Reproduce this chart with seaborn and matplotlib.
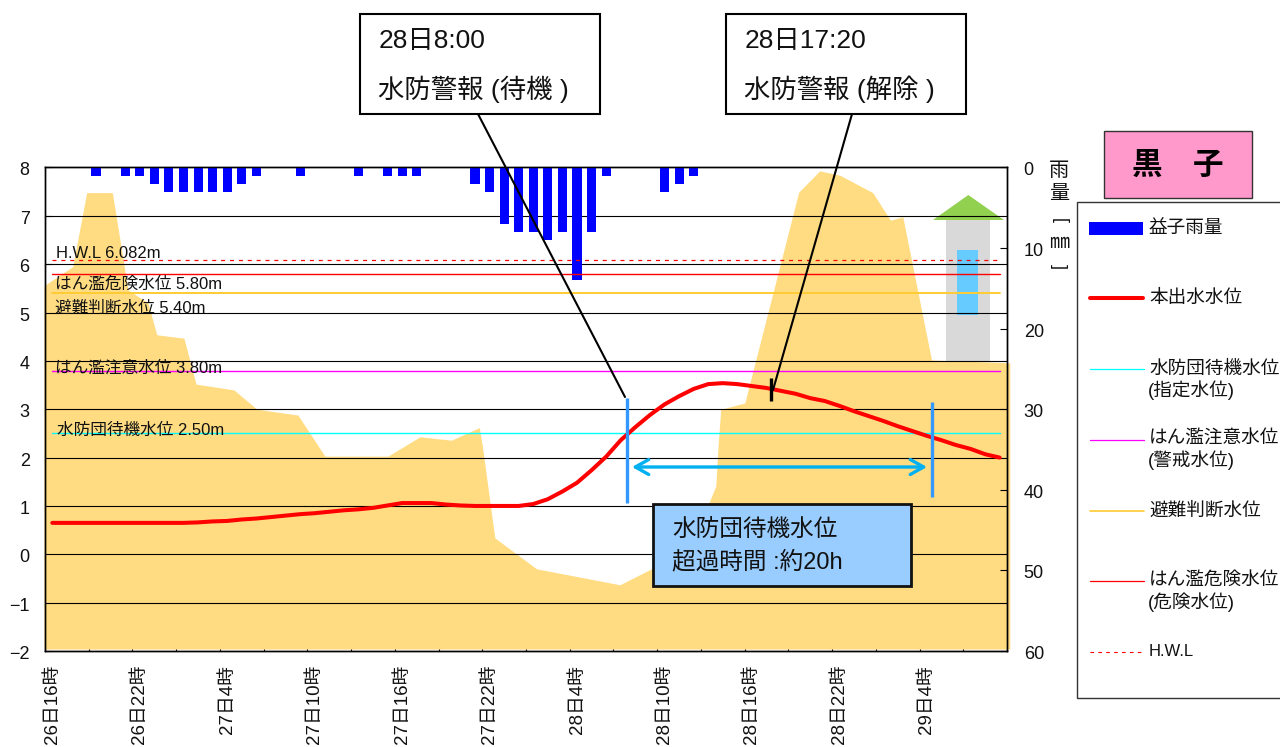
import numpy as np
import matplotlib
matplotlib.use("Agg")
import matplotlib.pyplot as plt
from matplotlib.patches import Rectangle, Polygon
from matplotlib.transforms import ScaledTranslation
import seaborn as sns

# ---------- data ----------
hours = list(range(66))
rain_mm = [0,0,0,1,0,1,1,2,3,3,3,3,3,2,1,0,0,1,0,0,0,1,0,1,1,1,0,0,0,2,3,7,8,8,9,8,14,8,1,0,0,0,3,2,1,
           0,0,0,0,0,0,0,0,0,0,0,0,0,0,0,0,0,0,0,0,0]
water_level = [.65,.65,.65,.65,.65,.65,.65,.65,.65,.65,.66,.68,.69,.72,.74,.77,.80,.83,.85,.88,.91,.93,.96,
               1.01,1.06,1.06,1.06,1.03,1.01,1.0,1.0,1.0,1.0,1.04,1.14,1.30,1.48,1.74,2.02,2.36,2.63,2.88,3.1,
               3.27,3.42,3.52,3.54,3.52,3.48,3.44,3.38,3.32,3.23,3.17,3.07,2.96,2.86,2.76,2.65,2.55,2.45,
               2.36,2.26,2.18,2.07,2.0]
tick_label_hours = [0,6,12,18,24,30,36,42,48,54,60]
tick_labels = ["26日16時","26日22時","27日4時","27日10時","27日16時","27日22時",
               "28日4時","28日10時","28日16時","28日22時","29日4時"]
terrain_hour = [-0.07,0,1.9,2.86,4.62,5.69,7.06,7.67,9.53,10.36,12.96,14.54,17.35,19.2,23.53,25.72,27.89,29.8,
                30.04,30.86,33.72,39.44,41.61,45.27,45.54,46.02,46.16,46.36,48.01,51.71,53.15,54.53,56.79,
                58.0,58.85,60.82,66.19]
terrain_level = [5.55,5.57,5.95,7.48,7.48,5.47,5.2,4.54,4.47,3.52,3.40,3.0,2.88,2.03,2.03,2.43,2.36,2.62,
                 2.16,0.34,-0.30,-0.63,-0.30,0.3,1.06,1.41,2.16,3.0,3.13,7.49,7.93,7.84,7.48,6.91,6.98,
                 4.02,3.96]
level_names = ["H.W.L 6.082m","はん濫危険水位 5.80m","避難判断水位 5.40m","はん濫注意水位 3.80m","水防団待機水位 2.50m"]
level_values = [6.082,5.80,5.40,3.80,2.50]
level_colors = ["#FF0000","#FF0000","#FFCC33","#FF00FF","#00FFFF"]

W, H = 1280, 747
L, R, T, B = 45, 1007, 167.5, 651

sns.set_theme(style="white")
FONT = ["Liberation Sans", "Noto Sans CJK JP"]
plt.rcParams["font.family"] = FONT
plt.rcParams["axes.unicode_minus"] = True

fig = plt.figure(figsize=(W/100, H/100), dpi=100, facecolor="white")
rect = [L/W, 1-B/H, (R-L)/W, (B-T)/H]
shift_down = ScaledTranslation(0, -1.5/100, fig.dpi_scale_trans)

# background pixel layer (tower icon sits under the grid)
under = fig.add_axes([0,0,1,1], zorder=0)
under.set_xlim(0,W); under.set_ylim(H,0); under.axis("off")

ax = fig.add_axes(rect, zorder=1)
ax.patch.set_visible(False)
ax.set_xlim(-0.5,65.5); ax.set_ylim(-2,8)

base = -1.96
ax.fill_between(np.array(terrain_hour)-0.5, terrain_level, base, color="#FFDC82", lw=0, clip_on=False, zorder=1)
ax.set_yticks(range(-2,9))
ax.set_yticklabels([f"\u2212{-v}" if v<0 else str(v) for v in range(-2,9)], fontsize=13)
for v in range(-1,8):
    ax.axhline(v, color="black", lw=0.8, zorder=2)
ax.tick_params(axis="y", direction="in", length=5, width=0.8, pad=11, color="black", labelcolor="#111111", left=True)
ax.set_xticks([h for h in tick_label_hours])
ax.set_xticklabels(tick_labels, rotation=90, fontsize=13.5, va="top", ha="center", color="#111111")
ax.set_xticks(np.arange(0,67,3)-0.5, minor=True)
ax.tick_params(axis="x", which="major", length=0, pad=10)
ax.tick_params(axis="x", which="minor", direction="in", length=5, width=0.8, color="black", bottom=True)
for lab in ax.get_yticklabels():
    lab.set_transform(lab.get_transform()+shift_down)

# rainfall on the inverted right axis
ax2 = ax.twinx()
ax2.set_zorder(2); ax2.patch.set_visible(False)
sns.barplot(x=hours, y=rain_mm, native_scale=True, width=0.62, color="#0000FF", saturation=1, linewidth=0, ax=ax2)
ax2.set_xlim(-0.5,65.5); ax2.set_ylim(60,0)
ax2.set_yticks(range(0,61,10))
ax2.tick_params(axis="y", direction="in", length=5, width=0.8, pad=12, labelsize=13, right=True, color="black", labelcolor="#111111")
ax2.set_xlabel(""); ax2.set_ylabel("")
ax2.grid(False)
for lab in ax2.get_yticklabels():
    lab.set_transform(lab.get_transform()+shift_down)
for a in (ax, ax2):
    for s in a.spines.values():
        s.set_color("black"); s.set_linewidth(1.0); s.set_visible(True)

# level lines and water level on top of the bars
ax3 = fig.add_axes(rect, zorder=3, sharex=ax)
ax3.patch.set_visible(False); ax3.axis("off"); ax3.set_ylim(-2,8)
for i,(v,c) in enumerate(zip(level_values, level_colors)):
    if i == 0:
        ax3.plot([0,65],[v,v], color=c, lw=0.9, ls=(0,(3.2,3.9)))
    elif c == "#FFCC33":
        ax3.plot([0,65],[v,v], color=c, lw=1.4)
    else:
        ax3.plot([0,65],[v,v], color=c, lw=1.0)
sns.lineplot(x=hours, y=water_level, color="#FF0000", lw=2.9, errorbar=None, ax=ax3, solid_capstyle="round")
ax3.set_xlabel(""); ax3.set_ylabel("")
ax3.set_xlim(-0.5,65.5); ax3.set_ylim(-2,8)

# tower icon
under.add_patch(Rectangle((946,220),44,141,fc="#D9D9D9",ec="none"))
under.add_patch(Rectangle((957,250),21,65,fc="#66CCFF",ec="none"))
under.add_patch(Polygon([(933,220),(968.3,195),(1004,220)],fc="#92D050",ec="none"))

# top pixel layer
ov = fig.add_axes([0,0,1,1], zorder=5)
ov.set_xlim(0,W); ov.set_ylim(H,0); ov.axis("off"); ov.patch.set_visible(False)

def t(x,y,s,fs,**k):
    ov.text(x,y+1.5,s,fontsize=fs,va="center",ha=k.pop("ha","left"),color=k.pop("color","#111111"),**k)

for (x,y),s in zip([(56,252.5),(55,282.5),(55,306.5),(55,366.5),(57,428.5)], level_names):
    t(x,y,s,12)

# right axis title
for y,s in zip([168.5,191.5,240.5],["雨","量","㎜"]):
    t(1059,y,s,14.5,ha="center")
for y,r in zip([220,266],[-90,90]):
    ov.text(1059,y,"[",fontsize=13,rotation=r,ha="center",va="center",color="#111111")

# site label
ov.add_patch(Rectangle((1103.5,131),148,67,fc="#FF99CC",ec="#333333",lw=1))
t(1177.5,164.5,"黒　子",22,ha="center",color="black",fontweight="bold")

# legend
LEG = 13.4
ov.add_patch(Rectangle((1076.5,202),400,496,fc="white",ec="#333333",lw=1,clip_on=True,zorder=0.5))
ov.add_patch(Rectangle((1089,221.5),54,13.5,fc="#0000FF",ec="none"))
t(1149,227,"益子雨量",LEG)
ov.plot([1090,1143],[298,298],color="#FF0000",lw=2.9,solid_capstyle="round")
t(1149,297,"本出水水位",LEG)
ov.plot([1090,1144],[369,369],color="#00FFFF",lw=0.9)
t(1149,368,"水防団待機水位",LEG); t(1148,389,"(指定水位)",LEG)
ov.plot([1090,1144],[439.5,439.5],color="#FF00FF",lw=0.9)
t(1149,438,"はん濫注意水位",LEG); t(1148,459,"(警戒水位)",LEG)
ov.plot([1090,1144],[511,511],color="#FFCC33",lw=1.2)
t(1149,510,"避難判断水位",LEG)
ov.plot([1090,1144],[581,581],color="#FF0000",lw=0.9)
t(1149,580,"はん濫危険水位",LEG); t(1148,601,"(危険水位)",LEG)
ov.plot([1090,1142],[652,652],color="#FF0000",lw=0.8,ls=(0,(3.2,3.9)))
t(1149,650.5,"H.W.L",12)

# callouts
ov.plot([478,625],[114,397],color="black",lw=1.5)
ov.plot([852,773],[114,390],color="black",lw=1.5)
ov.plot([771.3,771.3],[378,401],color="black",lw=2.4,solid_capstyle="butt")
for x0,l1,l2 in [(359.5,"28日8:00","水防警報 (待機 )"),(725.5,"28日17:20","水防警報 (解除 )")]:
    ov.add_patch(Rectangle((x0,14),240.5,100,fc="white",ec="black",lw=1.5))
    t(x0+19,40,l1,19)
    t(x0+19,87.5,l2,19)

# exceedance span
ov.plot([627,627],[398,503],color="#3399FF",lw=2.4,solid_capstyle="butt")
ov.plot([931.7,931.7],[402,497],color="#3399FF",lw=2.4,solid_capstyle="butt")
ov.annotate("",xy=(632,467),xytext=(927,467),
            arrowprops=dict(arrowstyle="<->,head_length=0.8,head_width=0.45",color="#00B0F0",lw=2.4,shrinkA=0,shrinkB=0))
ov.add_patch(Rectangle((653,503.5),258,82.5,fc="#99CCFF",ec="#111111",lw=2))
t(672,528.5,"水防団待機水位",17)
t(672,560.5,"超過時間 :約20h",17)

fig.savefig("out.png", dpi=100, facecolor="white")
